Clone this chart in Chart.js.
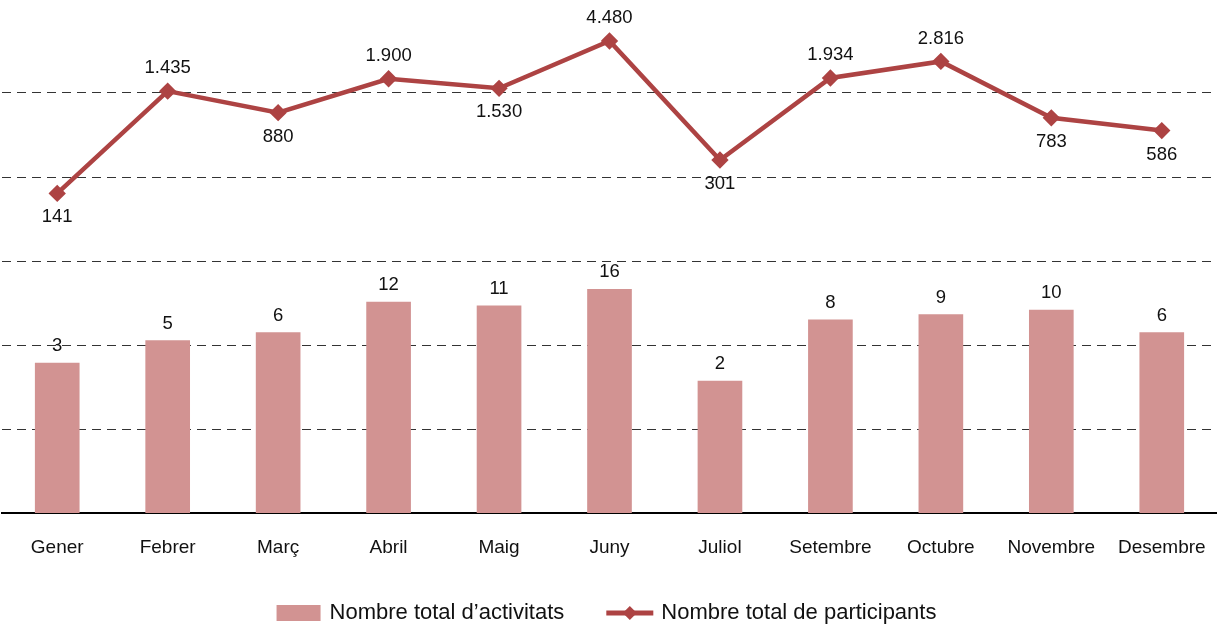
<!DOCTYPE html>
<html>
<head>
<meta charset="utf-8">
<style>
  html, body { margin: 0; padding: 0; background: #fff; }
  #wrap { width: 1217px; height: 626px; }
</style>
<script src="https://cdn.jsdelivr.net/npm/chart.js@4/dist/chart.umd.min.js"></script>
</head>
<body>
<div id="wrap"><canvas id="grafic" width="1217" height="626"></canvas></div>
<script>
// dades
const mesos = ['Gener', 'Febrer', 'Març', 'Abril', 'Maig', 'Juny', 'Juliol', 'Setembre', 'Octubre', 'Novembre', 'Desembre'];
const activitats = [3, 5, 6, 12, 11, 16, 2, 8, 9, 10, 6];
const participants = [141, 1435, 880, 1900, 1530, 4480, 301, 1934, 2816, 783, 586];
const nomActivitats = 'Nombre total d\u2019activitats';
const nomParticipants = 'Nombre total de participants';

const colorBarra = '#d29392';
const colorLinia = '#ad4343';
const font = '"Liberation Sans", Arial, Helvetica, sans-serif';

Chart.defaults.font.family = font;
Chart.defaults.font.size = 18;
Chart.defaults.color = '#111';

// format amb punt de milers
function fmt(n) {
  return n.toString().replace(/\B(?=(\d{3})+(?!\d))/g, '.');
}

// etiquetes de valors
const etiquetes = {
  id: 'etiquetes',
  afterDatasetsDraw(chart) {
    const ctx = chart.ctx;
    ctx.save();
    ctx.font = '18.5px ' + font;
    ctx.fillStyle = '#111';
    ctx.textAlign = 'center';
    ctx.textBaseline = 'middle';
    chart.getDatasetMeta(0).data.forEach((bar, i) => {
      ctx.fillText(fmt(activitats[i]), bar.x, bar.y - 17);
    });
    chart.getDatasetMeta(1).data.forEach((pt, i) => {
      const amunt = i > 0 && participants[i] > participants[i - 1];
      ctx.fillText(fmt(participants[i]), pt.x, pt.y + (amunt ? -23 : 24));
    });
    ctx.restore();
  }
};

// llegenda a mida
const llegenda = {
  id: 'llegenda',
  afterDraw(chart) {
    const ctx = chart.ctx;
    ctx.save();
    ctx.font = '22px ' + font;
    ctx.textBaseline = 'middle';
    const y = 613;
    const w1 = ctx.measureText(nomActivitats).width;
    const w2 = ctx.measureText(nomParticipants).width;
    const total = 44 + 9 + w1 + 42 + 47 + 8 + w2;
    let x = (chart.width - total) / 2 - 2;
    ctx.fillStyle = colorBarra;
    ctx.fillRect(x, y - 8, 44, 16);
    x += 53;
    ctx.fillStyle = '#111';
    ctx.fillText(nomActivitats, x, y);
    x += w1 + 42;
    ctx.strokeStyle = colorLinia;
    ctx.lineWidth = 5;
    ctx.beginPath();
    ctx.moveTo(x, y);
    ctx.lineTo(x + 47, y);
    ctx.stroke();
    ctx.fillStyle = colorLinia;
    ctx.beginPath();
    ctx.moveTo(x + 23.5, y - 7);
    ctx.lineTo(x + 30.5, y);
    ctx.lineTo(x + 23.5, y + 7);
    ctx.lineTo(x + 16.5, y);
    ctx.closePath();
    ctx.fill();
    x += 55;
    ctx.fillStyle = '#111';
    ctx.fillText(nomParticipants, x, y);
    ctx.restore();
  }
};

new Chart(document.getElementById('grafic'), {
  data: {
    labels: mesos,
    datasets: [{
      type: 'bar',
      label: nomActivitats,
      data: activitats,
      backgroundColor: colorBarra,
      barThickness: 44,
      yAxisID: 'y',
      order: 2
    }, {
      type: 'line',
      label: nomParticipants,
      data: participants,
      borderColor: colorLinia,
      backgroundColor: colorLinia,
      borderWidth: 4.5,
      pointStyle: 'rectRot',
      pointRadius: 5.5,
      tension: 0,
      yAxisID: 'y',
      order: 1
    }]
  },
  options: {
    responsive: false,
    animation: false,
    layout: { autoPadding: false, padding: { left: 2, right: -4, top: 9, bottom: 53 } },
    plugins: {
      legend: { display: false },
      tooltip: { enabled: false }
    },
    scales: {
      x: {
        offset: true,
        grid: { display: false },
        border: { display: true, color: '#000', width: 2 },
        ticks: { padding: 15, color: '#111', font: { size: 19 } },
        afterFit(scale) {
          scale.paddingLeft = 0;
          scale.paddingRight = 0;
          scale.height = 60;
        }
      },
      y: {
        type: 'logarithmic',
        display: false,
        min: 0.1,
        max: 9250
      },
      yg: {
        type: 'linear',
        position: 'left',
        min: 0,
        max: 6,
        ticks: { display: false, stepSize: 1 },
        border: { display: false, dash: [9, 6] },
        grid: {
          drawTicks: false,
          color: c => (c.tick.value > 0 && c.tick.value < 6) ? '#333' : 'rgba(0,0,0,0)',
          lineWidth: 1
        },
        afterFit(scale) {
          scale.width = 0;
        }
      }
    }
  },
  plugins: [etiquetes, llegenda]
});
</script>
</body>
</html>
